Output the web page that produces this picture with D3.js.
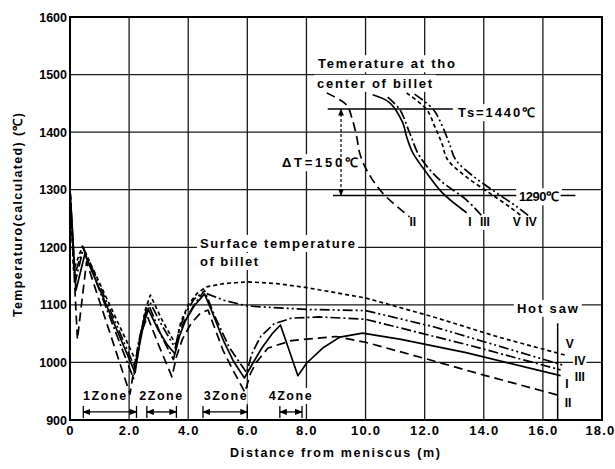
<!DOCTYPE html>
<meta charset="utf-8">
<body style="margin:0;background:#fff">
<script src="https://d3js.org/d3.v7.min.js"></script>
<script>

// tick labels
var xTicks = [0, 2, 4, 6, 8, 10, 12, 14, 16, 18];
var xTickLabels = ["0", "2.0", "4.0", "6.0", "8.0", "10.0", "12.0", "14.0", "16.0", "18.0"];
var yTicks = [900, 1000, 1100, 1200, 1300, 1400, 1500, 1600];

// surface temperature of billet  [distance m, temp C]
var surfI = [[0,1300],[0.2,1125],[0.5,1188],[2.2,982],[2.35,1030],[2.5,1068],[2.65,1092],[3.0,1055],[3.3,1030],[3.55,1015],
  [3.7,1045],[3.9,1072],[4.2,1098],[4.55,1119],[4.78,1091],[5.2,1037],[5.52,1003],[5.9,973],[6.19,999],[6.49,1025],
  [6.86,1051],[7.12,1065],[7.71,977],[8.01,999],[8.55,1025],[9.13,1044],[9.9,1051],[11.2,1040],[13.4,1017],[16.6,977]];
var surfII = [[0,1300],[0.25,1040],[0.56,1175],[2.03,945],[2.2,1000],[2.4,1050],[2.62,1080],[3.0,1030],[3.45,975],
  [3.6,1010],[3.8,1040],[4.1,1068],[4.4,1085],[4.67,1091],[5.17,1022],[5.51,987],[5.92,948],[6.1,980],[6.3,1000],
  [6.7,1025],[7.5,1038],[9.0,1045],[10.0,1035],[12.0,1007],[14.0,978],[16.6,942]];
var surfIII = [[0,1300],[0.18,1140],[0.45,1198],[2.15,972],[2.3,1030],[2.5,1075],[2.68,1098],[3.1,1045],[3.5,1005],
  [3.65,1040],[3.85,1070],[4.2,1100],[4.55,1125],[4.9,1080],[5.4,1025],[5.98,982],[6.15,1015],[6.45,1045],[6.9,1067],
  [7.5,1077],[8.45,1079],[10.0,1075],[13.5,1030],[16.6,987]];
var surfIV = [[0,1300],[0.15,1150],[0.45,1200],[2.2,990],[2.35,1040],[2.52,1082],[2.7,1105],[3.1,1065],[3.56,1025],
  [3.7,1058],[3.9,1085],[4.2,1110],[4.5,1122],[5.2,1108],[6.0,1098],[8.0,1092],[10.0,1090],[12.3,1062],[16.7,995]];
var surfV = [[0,1300],[0.12,1160],[0.42,1202],[2.25,1000],[2.4,1050],[2.55,1092],[2.72,1117],[3.1,1075],[3.58,1031],
  [3.75,1070],[4.0,1100],[4.3,1120],[4.6,1131],[5.2,1137],[6.0,1140],[7.0,1137],[8.0,1130],[10.0,1112],[12.3,1079],
  [14.5,1044],[16.8,1012]];

// temperature at the center of billet
var centI = [[10.24,1465],[10.82,1451],[11.26,1416],[11.39,1392],[11.6,1364],[12.07,1329],[12.61,1294],[13.42,1260]];
var centII = [[8.69,1468],[9.36,1447],[9.53,1426],[9.7,1392],[9.8,1364],[10.04,1334],[10.58,1294],[11.49,1253]];
var centIII = [[10.75,1461],[11.16,1439],[11.49,1399],[11.83,1358],[12.51,1317],[13.42,1282],[13.96,1253]];
var centIV = [[11.66,1466],[12.3,1439],[12.6,1410],[12.83,1381],[13.05,1352],[13.68,1322],[14.45,1294],[15.13,1270],[15.56,1253]];
var centV = [[11.39,1468],[12.07,1439],[12.34,1410],[12.58,1381],[12.78,1352],[13.42,1322],[14.2,1294],[14.88,1270],[15.31,1253]];

// cooling zones
var zoneNames = ["1Zone", "2Zone", "3Zone", "4Zone"];
var zoneStart = [0.45, 2.6, 4.5, 7.1];
var zoneEnd = [2.25, 3.6, 6.0, 7.85];
var zoneLabelX = [1.17, 3.07, 5.25, 7.45];

var tsTemp = 1440, lowTemp = 1290, hotSaw = 16.5;

var W = 615, H = 469;
var x = d3.scaleLinear().domain([0, 18]).range([70, 602]);
var y = d3.scaleLinear().domain([900, 1600]).range([420, 17]);

var svg = d3.select("body").append("svg").attr("width", W).attr("height", H)
    .style("font-family", "'Liberation Sans', Arial, sans-serif");

// grid
var grid = svg.append("g").attr("stroke", "#1a1a1a").attr("stroke-width", 1.3);
grid.selectAll(".gx").data(xTicks.slice(1, -1)).enter().append("line")
    .attr("x1", function (d) { return x(d); }).attr("x2", function (d) { return x(d); })
    .attr("y1", y(1600)).attr("y2", y(900));
grid.selectAll(".gy").data(yTicks.slice(1, -1)).enter().append("line")
    .attr("x1", x(0)).attr("x2", x(18))
    .attr("y1", function (d) { return y(d); }).attr("y2", function (d) { return y(d); });

// frame
svg.append("rect").attr("x", x(0)).attr("y", y(1600)).attr("width", x(18) - x(0)).attr("height", y(900) - y(1600))
    .attr("fill", "none").attr("stroke", "#000").attr("stroke-width", 2);

// axes
var xAxis = svg.append("g").attr("transform", "translate(0," + y(900) + ")")
    .call(d3.axisBottom(x).tickValues(xTicks).tickSize(0).tickPadding(6)
        .tickFormat(function (d, i) { return xTickLabels[i]; }));
xAxis.select(".domain").remove();
xAxis.selectAll("text").attr("font-size", 13).attr("font-weight", "bold").attr("letter-spacing", 1.2)
    .attr("font-family", "'Liberation Sans', Arial, sans-serif").attr("fill", "#000");
xAxis.selectAll(".tick:last-of-type text").attr("text-anchor", "end").attr("dx", 13);

var yAxis = svg.append("g").attr("transform", "translate(" + x(0) + ",0)")
    .call(d3.axisLeft(y).tickValues(yTicks).tickSize(0).tickPadding(3).tickFormat(d3.format("d")));
yAxis.select(".domain").remove();
yAxis.selectAll("text").attr("font-size", 12.5).attr("font-weight", "bold")
    .attr("font-family", "'Liberation Sans', Arial, sans-serif").attr("fill", "#000");

svg.append("text").attr("transform", "translate(22," + 215 + ") rotate(-90)")
    .attr("text-anchor", "middle").attr("font-size", 12.5).attr("font-weight", "bold")
    .attr("textLength", 204).attr("lengthAdjust", "spacing")
    .text("Temperaturo(calculated)  (\u2103)");
svg.append("text").attr("x", 335).attr("y", 457)
    .attr("text-anchor", "middle").attr("font-size", 12.5).attr("font-weight", "bold")
    .attr("textLength", 210).attr("lengthAdjust", "spacing")
    .text("Distance from meniscus (m)");

var bgLayer = svg.append("g");
var markLayer = svg.append("g").attr("fill", "none").attr("stroke", "#000");
var textLayer = svg.append("g").attr("font-weight", "bold");

function label(txt, xv, tv, size, len, anchor, pad) {
    var t = textLayer.append("text").attr("x", x(xv)).attr("y", y(tv))
        .attr("font-size", size).attr("text-anchor", anchor || "start").text(txt);
    if (len) t.attr("textLength", len).attr("lengthAdjust", "spacing");
    if (pad !== undefined) {
        var b = t.node().getBBox();
        bgLayer.append("rect").attr("x", b.x - pad).attr("y", b.y - 1)
            .attr("width", b.width + 2 * pad).attr("height", b.height + 2).attr("fill", "#fff");
    }
    return t;
}

// annotations for center temperature
label("Temerature at tho", 8.39, 1511, 13, 137, "start", 3);
label("center of billet", 8.36, 1477, 13, 115, "start", 3);
label("Ts=1440\u2103", 13.13, 1426, 13, 77, "start", 3);
label("1290\u2103", 15.19, 1280, 13, 40, "start", 3);
label("\u0394T=150\u2103", 7.17, 1339, 13, 76, "start", 3);
markLayer.append("line").attr("x1", x(8.72)).attr("x2", x(12.95)).attr("y1", y(tsTemp)).attr("y2", y(tsTemp)).attr("stroke-width", 1.5);
markLayer.append("line").attr("x1", x(8.9)).attr("x2", x(15.1)).attr("y1", y(lowTemp)).attr("y2", y(lowTemp)).attr("stroke-width", 1.5);
markLayer.append("line").attr("x1", x(16.6)).attr("x2", x(17.1)).attr("y1", y(lowTemp)).attr("y2", y(lowTemp)).attr("stroke-width", 1.5);

// delta T arrow
var defs = svg.append("defs");
defs.append("marker").attr("id", "ah").attr("viewBox", "0 0 10 10").attr("refX", 9).attr("refY", 5)
    .attr("markerWidth", 6).attr("markerHeight", 6).attr("orient", "auto-start-reverse")
    .append("path").attr("d", "M0,1L10,5L0,9z").attr("fill", "#000");
markLayer.append("line").attr("x1", x(9.17)).attr("x2", x(9.17)).attr("y1", y(tsTemp)).attr("y2", y(lowTemp))
    .attr("stroke-width", 1.2).attr("stroke-dasharray", "3,2")
    .attr("marker-start", "url(#ah)").attr("marker-end", "url(#ah)");

label("II", 11.6, 1237, 12, null, "middle", 1);
label("I", 13.53, 1237, 12, null, "middle", 1);
label("III", 14.04, 1237, 12, null, "middle", 1);
label("V", 15.12, 1237, 12, null, "middle", 1);
label("IV", 15.6, 1237, 12, null, "middle", 1);

// surface annotations
label("Surface temperature", 4.4, 1199, 13, 155, "start", 3);
label("of billet", 4.4, 1167.5, 13, 58, "start", 3);
label("Hot saw", 15.12, 1086, 13, 61, "start", 3);
markLayer.append("line").attr("x1", x(hotSaw)).attr("x2", x(hotSaw)).attr("y1", y(900)).attr("y2", y(1068)).attr("stroke-width", 1.5);

label("V", 16.91, 1025, 12, null, "middle");
label("IV", 17.25, 995, 12, null, "middle", 1);
label("III", 17.25, 968, 12, null, "middle", 1);
label("I", 16.81, 955, 12, null, "middle");
label("II", 16.85, 923, 12, null, "middle");

// zones
zoneNames.forEach(function (n, i) {
    label(n, zoneLabelX[i], 935, 12.5, 43, "middle", 1);
    var yz = y(914);
    markLayer.append("line").attr("x1", x(zoneStart[i])).attr("x2", x(zoneEnd[i])).attr("y1", yz).attr("y2", yz)
        .attr("stroke-width", 1.3).attr("marker-start", "url(#ah)").attr("marker-end", "url(#ah)");
    [zoneStart[i], zoneEnd[i]].forEach(function (v) {
        markLayer.append("line").attr("x1", x(v)).attr("x2", x(v)).attr("y1", yz - 6).attr("y2", yz + 6).attr("stroke-width", 1.3);
    });
});

// curves
var styles = { I: null, II: "9,5", III: "10,3,2,3", IV: "10,3,2,3,2,3", V: "4,3" };
var surf = [["I", surfI], ["II", surfII], ["III", surfIII], ["IV", surfIV], ["V", surfV]];
var cent = [["I", centI], ["II", centII], ["III", centIII], ["IV", centIV], ["V", centV]];

var lineSurf = d3.line().x(function (d) { return x(d[0]); }).y(function (d) { return y(d[1]); });
var lineCent = d3.line().x(function (d) { return x(d[0]); }).y(function (d) { return y(d[1]); }).curve(d3.curveCatmullRom);

surf.forEach(function (s) {
    markLayer.append("path").attr("d", lineSurf(s[1])).attr("stroke-width", 1.7)
        .attr("stroke-linejoin", "round").attr("stroke-dasharray", styles[s[0]]);
});
cent.forEach(function (s) {
    markLayer.append("path").attr("d", lineCent(s[1])).attr("stroke-width", 1.7)
        .attr("stroke-dasharray", styles[s[0]]);
});

</script>
</body>
